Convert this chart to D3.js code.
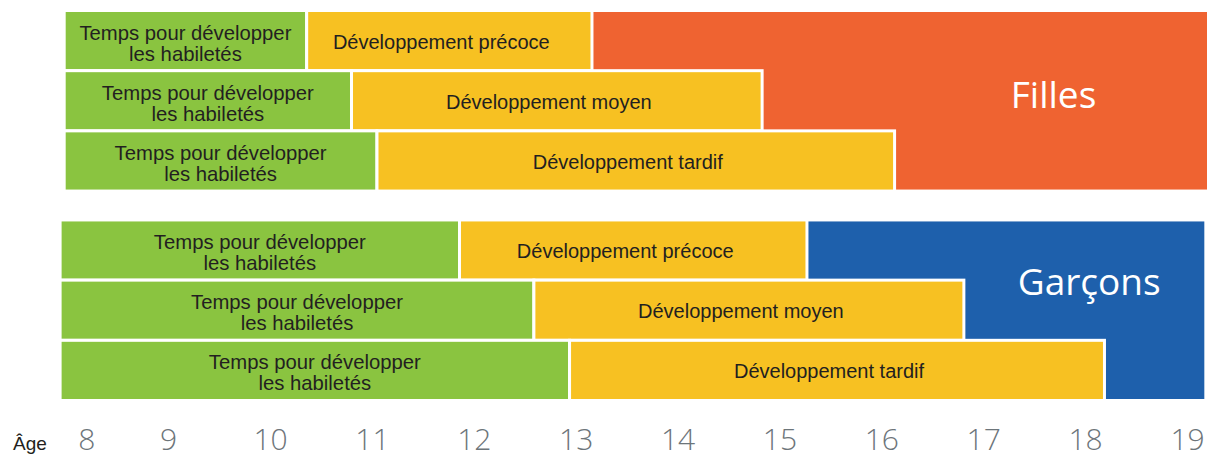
<!DOCTYPE html>
<html>
<head>
<meta charset="utf-8">
<script src="https://cdn.jsdelivr.net/npm/d3@7"></script>
<style>
  body { margin: 0; background: #fff; }
</style>
</head>
<body>
<figure id="chart" style="margin:0"></figure>
<script>
// data (ages)
const ages = [8, 9, 10, 11, 12, 13, 14, 15, 16, 17, 18, 19];
const groups = ["Filles", "Garçons"];
const rows = ["Développement précoce", "Développement moyen", "Développement tardif"];
const skillLabel = ["Temps pour développer", "les habiletés"];

const groupStart = [7.98, 7.94];
const groupEnd = [19.2, 19.17];
const fillesSkillEnd = [10.36, 10.8, 11.05];
const fillesDevEnd = [13.16, 14.83, 16.13];
const garconsSkillEnd = [11.86, 12.59, 12.94];
const garconsDevEnd = [15.27, 16.81, 18.19];
const groupLabelAge = [17.69, 18.04];
const groupLabelRow = [1.62, 1.25];

const skillEnds = [fillesSkillEnd, garconsSkillEnd];
const devEnds = [fillesDevEnd, garconsDevEnd];
const groupColors = ["#ef6331", "#1e60ac"];
const green = "#8ac440";
const yellow = "#f7c122";
const ink = "#231f20";

const width = 1207, height = 458;

const svg = d3.select("#chart")
  .append("svg")
  .attr("width", width)
  .attr("height", height)
  .style("display", "block");

const x = d3.scaleLinear()
  .domain([10, 19])
  .range([270, 1187]);

const yGroup = d3.scaleBand()
  .domain(groups)
  .range([10.5, 400.5])
  .paddingInner(0.138);

const yRow = d3.scaleBand()
  .domain(rows)
  .range([0, yGroup.bandwidth()])
  .paddingInner(0);

groups.forEach((g, gi) => {
  const gy = yGroup(g);
  const layer = svg.append("g").attr("transform", "translate(0," + gy + ")");

  // coloured block behind the rows
  layer.append("rect")
    .attr("x", x(devEnds[gi][0]))
    .attr("y", 1.5)
    .attr("width", x(groupEnd[gi]) - x(devEnds[gi][0]))
    .attr("height", yGroup.bandwidth() - 3)
    .attr("fill", groupColors[gi]);

  rows.forEach((r, ri) => {
    const ry = yRow(r);
    const rh = yRow.bandwidth();
    const s = groupStart[gi], m = skillEnds[gi][ri], e = devEnds[gi][ri];

    layer.append("rect")
      .attr("x", x(s))
      .attr("y", ry)
      .attr("width", x(m) - x(s))
      .attr("height", rh)
      .attr("fill", green)
      .attr("stroke", "#fff")
      .attr("stroke-width", 3);

    layer.append("rect")
      .attr("x", x(m))
      .attr("y", ry)
      .attr("width", x(e) - x(m))
      .attr("height", rh)
      .attr("fill", yellow)
      .attr("stroke", "#fff")
      .attr("stroke-width", 3);

    const cy = ry + rh / 2;
    const t = layer.append("text")
      .attr("text-anchor", "middle")
      .attr("font-family", "'Liberation Sans', Arial, sans-serif")
      .attr("font-size", 20.3)
      .attr("fill", ink);
    skillLabel.forEach((line, li) => {
      t.append("tspan")
        .attr("x", (x(s) + x(m)) / 2)
        .attr("y", cy - 1 + li * 21)
        .text(line);
    });

    layer.append("text")
      .attr("x", (x(m) + x(e)) / 2 - 8)
      .attr("y", cy + 8)
      .attr("text-anchor", "middle")
      .attr("font-family", "'Liberation Sans', Arial, sans-serif")
      .attr("font-size", 20)
      .attr("fill", ink)
      .text(r);
  });

  layer.append("text")
    .attr("x", x(groupLabelAge[gi]))
    .attr("y", groupLabelRow[gi] * yRow.step())
    .attr("text-anchor", "middle")
    .attr("font-family", "'Open Sans', sans-serif")
    .attr("font-size", 37)
    .attr("fill", "#fff")
    .text(g);
});

// age axis
const axis = svg.append("g")
  .attr("transform", "translate(0,429)")
  .call(d3.axisBottom(x).tickValues(ages).tickFormat(d3.format("d")).tickSize(0).tickPadding(0));
axis.select(".domain").remove();
axis.selectAll("text")
  .attr("font-family", "'Open Sans', sans-serif")
  .attr("font-weight", 300)
  .attr("font-size", 30)
  .attr("fill", "#6d757a")
  .attr("dx", d => d === 8 ? 20 : 0);

svg.append("text")
  .attr("x", 13)
  .attr("y", 450)
  .attr("font-family", "'Liberation Sans', Arial, sans-serif")
  .attr("font-size", 19)
  .attr("fill", ink)
  .text("Âge");
</script>
</body>
</html>
